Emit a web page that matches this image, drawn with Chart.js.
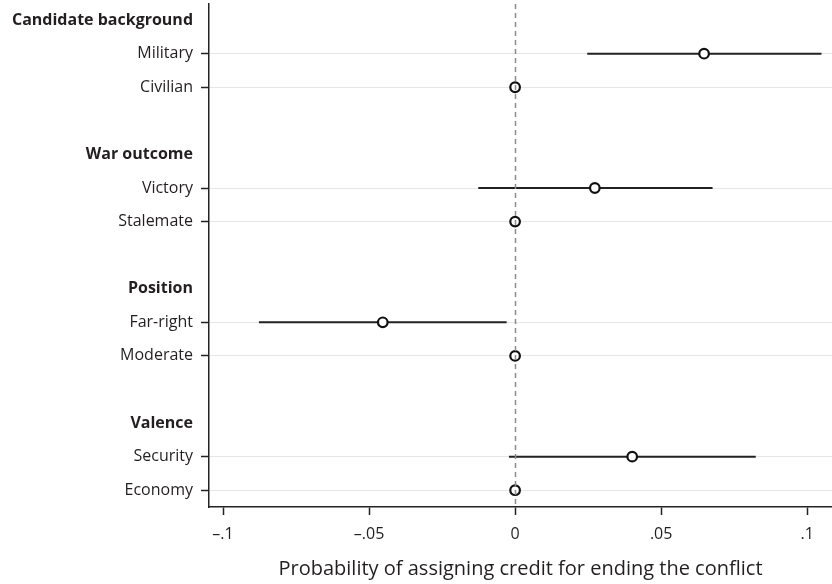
<!DOCTYPE html>
<html>
<head>
<meta charset="utf-8">
<script src="https://cdn.jsdelivr.net/npm/chart.js@4/dist/chart.umd.min.js"></script>
<style>
  html, body { margin: 0; padding: 0; background: #fff; }
  #wrap { width: 832px; height: 584px; position: relative; }
</style>
</head>
<body>
<div id="wrap"><canvas id="coef-chart"></canvas></div>
<script>
// groups and their levels (second level is the reference category)
const groups = ['Candidate background', 'War outcome', 'Position', 'Valence']
const levels = [
  ['Military', 'Civilian'],
  ['Victory', 'Stalemate'],
  ['Far-right', 'Moderate'],
  ['Security', 'Economy']
]
// estimates and 95% CIs, one entry per level in the order above
const estimates = [0.0647, 0, 0.0273, 0, -0.0453, 0, 0.0401, 0]
const lowerCI = [0.0247, null, -0.0126, null, -0.0877, null, -0.0021, null]
const upperCI = [0.1049, null, 0.0676, null, -0.0029, null, 0.0824, null]

const xTicks = [-0.1, -0.05, 0, 0.05, 0.1]
const xTickLabels = ['\u2013.1', '\u2013.05', '0', '.05', '.1']
const xTitle = 'Probability of assigning credit for ending the conflict'

const FONT = "'Open Sans', sans-serif"
const INK = '#231f20'

// rows: header, level, level, blank, header, ...
const rowLabels = {}
const headerRows = []
const levelRows = []
groups.forEach((g, gi) => {
  const base = gi * 4
  rowLabels[base] = g
  headerRows.push(base)
  levels[gi].forEach((l, li) => {
    rowLabels[base + 1 + li] = l
    levelRows.push(base + 1 + li)
  })
})
const tickRows = Object.keys(rowLabels).map(Number).sort((a, b) => a - b)
const isHeader = v => headerRows.includes(v)

const ciDatasets = estimates.map((est, i) => {
  if (lowerCI[i] === null) return null
  return {
    data: [{ x: lowerCI[i], y: levelRows[i] }, { x: upperCI[i], y: levelRows[i] }],
    showLine: true,
    borderColor: '#222',
    borderWidth: 2,
    pointRadius: 0,
    order: 2
  }
}).filter(Boolean)

const pointDataset = {
  data: estimates.map((est, i) => ({ x: est, y: levelRows[i] })),
  pointStyle: 'circle',
  pointRadius: 4.8,
  pointBorderWidth: 2.2,
  pointBorderColor: '#111',
  pointBackgroundColor: '#fff',
  showLine: false,
  order: 1
}

// dashed reference line at zero, drawn over the markers
const zeroLine = {
  id: 'zeroLine',
  afterDatasetsDraw(chart) {
    const { ctx, chartArea, scales } = chart
    const x = Math.round(scales.x.getPixelForValue(0)) + 0.5
    ctx.save()
    ctx.strokeStyle = '#8c8c8c'
    ctx.lineWidth = 1.5
    ctx.setLineDash([5, 4])
    ctx.beginPath()
    ctx.moveTo(x, chartArea.top)
    ctx.lineTo(x, chartArea.bottom)
    ctx.stroke()
    ctx.restore()
  }
}

new Chart(document.getElementById('coef-chart').getContext('2d'), {
  type: 'scatter',
  data: { datasets: [...ciDatasets, pointDataset] },
  options: {
    responsive: true,
    maintainAspectRatio: false,
    animation: false,
    layout: { autoPadding: false, padding: { top: 4, right: 0, left: 0, bottom: 0 } },
    plugins: { legend: { display: false }, tooltip: { enabled: false } },
    scales: {
      x: {
        type: 'linear',
        min: -0.1048,
        max: 0.1085,
        afterBuildTicks: s => { s.ticks = xTicks.map(v => ({ value: v })) },
        afterFit: s => { s.height = 77; s.paddingLeft = 0; s.paddingRight = 0 },
        ticks: {
          autoSkip: false,
          maxRotation: 0,
          padding: 10,
          color: INK,
          font: { family: FONT, size: 16 },
          callback: v => xTickLabels[xTicks.indexOf(v)]
        },
        grid: { drawOnChartArea: false, tickLength: 8, tickColor: '#222', tickWidth: 1.5 },
        border: { color: '#222', width: 1.5 },
        title: {
          display: true,
          text: xTitle,
          color: INK,
          font: { family: FONT, size: 20 },
          padding: { top: 0, bottom: 3 }
        }
      },
      y: {
        type: 'linear',
        reverse: true,
        min: -0.48,
        max: 14.5,
        afterBuildTicks: s => { s.ticks = tickRows.map(v => ({ value: v })) },
        afterFit: s => { s.width = 209; s.paddingTop = 0; s.paddingBottom = 0 },
        ticks: {
          autoSkip: false,
          padding: 8,
          color: INK,
          font: ctx => ({ family: FONT, size: 16, weight: isHeader(ctx.tick && ctx.tick.value) ? 'bold' : 'normal' }),
          callback: v => rowLabels[v]
        },
        grid: {
          tickLength: 8,
          color: ctx => isHeader(ctx.tick && ctx.tick.value) ? 'rgba(0,0,0,0)' : '#e6e6e6',
          tickColor: ctx => isHeader(ctx.tick && ctx.tick.value) ? 'rgba(0,0,0,0)' : '#222',
          tickWidth: 1.5,
          lineWidth: 1
        },
        border: { color: '#222', width: 1.5 }
      }
    }
  },
  plugins: [zeroLine]
})
</script>
</body>
</html>
